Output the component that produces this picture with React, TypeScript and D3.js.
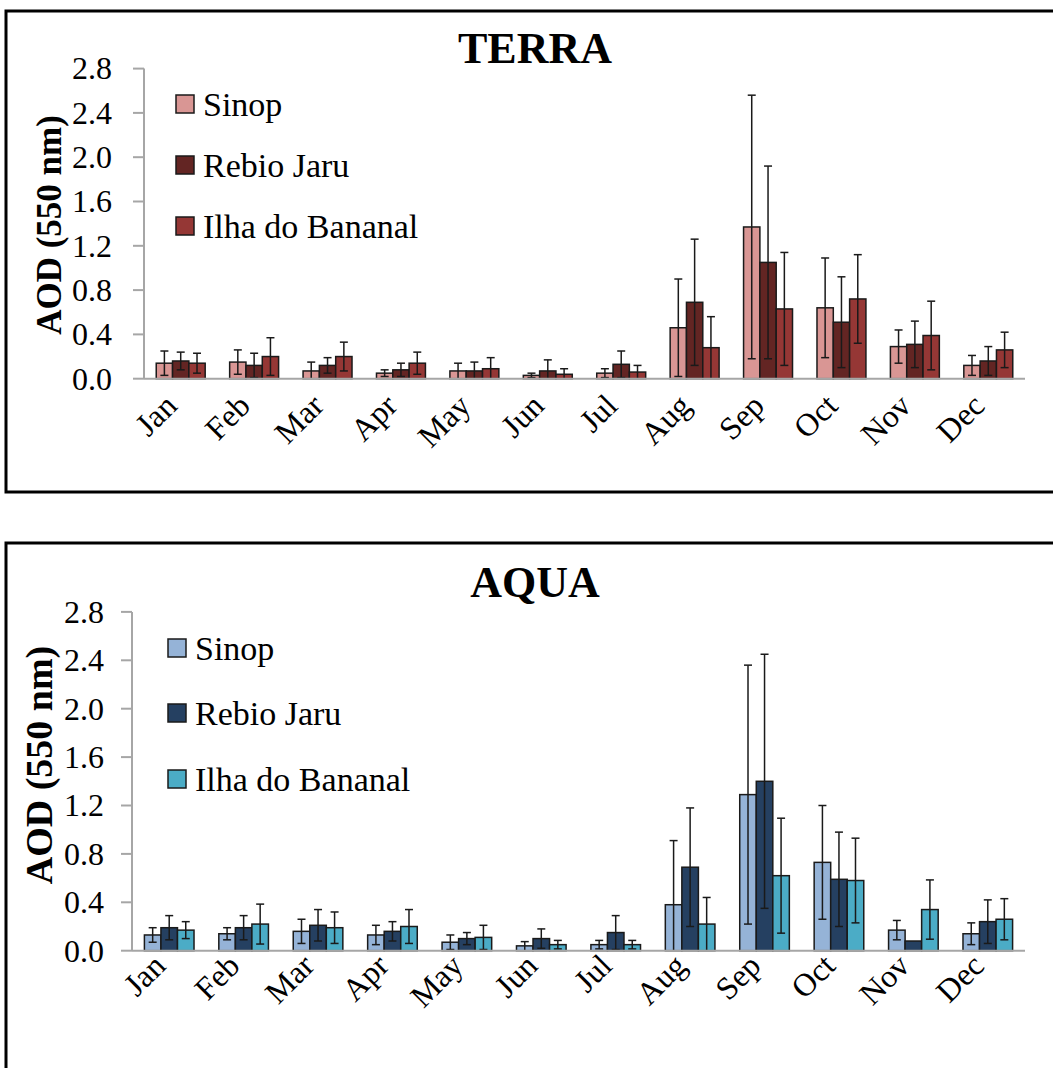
import React from "react";
import * as d3 from "d3";

const months = ["Jan", "Feb", "Mar", "Apr", "May", "Jun", "Jul", "Aug", "Sep", "Oct", "Nov", "Dec"];
const sites = ["Sinop", "Rebio Jaru", "Ilha do Bananal"];
const yTicks = [0, 0.4, 0.8, 1.2, 1.6, 2.0, 2.4, 2.8];

const terraSinop = [0.14, 0.15, 0.07, 0.05, 0.07, 0.03, 0.05, 0.46, 1.37, 0.64, 0.29, 0.12];
const terraSinopErr = [0.11, 0.11, 0.08, 0.03, 0.07, 0.02, 0.04, 0.44, 1.19, 0.45, 0.15, 0.09];
const terraRebio = [0.16, 0.12, 0.12, 0.08, 0.07, 0.07, 0.13, 0.69, 1.05, 0.51, 0.31, 0.16];
const terraRebioErr = [0.08, 0.11, 0.07, 0.06, 0.08, 0.10, 0.12, 0.57, 0.87, 0.41, 0.21, 0.13];
const terraIlha = [0.14, 0.20, 0.20, 0.14, 0.09, 0.04, 0.06, 0.28, 0.63, 0.72, 0.39, 0.26];
const terraIlhaErr = [0.09, 0.17, 0.13, 0.10, 0.10, 0.05, 0.06, 0.28, 0.51, 0.40, 0.31, 0.16];

const aquaSinop = [0.13, 0.14, 0.16, 0.13, 0.07, 0.04, 0.05, 0.38, 1.29, 0.73, 0.17, 0.14];
const aquaSinopErr = [0.06, 0.05, 0.10, 0.08, 0.06, 0.035, 0.035, 0.53, 1.07, 0.47, 0.08, 0.09];
const aquaRebio = [0.19, 0.19, 0.21, 0.16, 0.10, 0.10, 0.15, 0.69, 1.40, 0.59, 0.08, 0.24];
const aquaRebioErr = [0.10, 0.10, 0.13, 0.08, 0.05, 0.08, 0.14, 0.49, 1.05, 0.39, 0, 0.18];
const aquaIlha = [0.17, 0.22, 0.19, 0.20, 0.11, 0.05, 0.05, 0.22, 0.62, 0.58, 0.34, 0.26];
const aquaIlhaErr = [0.07, 0.165, 0.13, 0.14, 0.10, 0.035, 0.035, 0.22, 0.475, 0.35, 0.245, 0.17];

const terraColors = ["#D99694", "#632523", "#953735"];
const aquaColors = ["#95B3D7", "#254061", "#4BACC6"];

const FONT = "Liberation Serif, Tinos, Times New Roman, DejaVu Serif, serif";

type PanelProps = {
  title: string;
  values: number[][];
  errors: number[][];
  colors: string[];
  frameY: number;
  frameH: number;
  titleY: number;
  x0: number;
  x1: number;
  yBase: number;
  yTop: number;
  tickLabelX: number;
  yLabelX: number;
  yLabelY: number;
  yLabelSize: number;
  legendX: number;
  legendYs: number[];
  xLabelDy: number;
};

function Panel(p: PanelProps) {
  const x = d3.scaleBand<string>().domain(months).range([p.x0, p.x1]).paddingInner(1 / 3).paddingOuter(1 / 6);
  const xs = d3.scaleBand<string>().domain(sites).range([0, x.bandwidth()]);
  const y = d3.scaleLinear().domain([0, 2.8]).range([p.yBase, p.yTop]);
  const cap = 4;
  const tf = { fontFamily: FONT };
  return (
    <g>
      <rect x={6} y={p.frameY} width={1100} height={p.frameH} fill="white" stroke="#000" strokeWidth={3} />
      <text x={535} y={p.titleY} textAnchor="middle" style={tf} fontWeight="bold" fontSize={44}>
        {p.title}
      </text>
      <text
        transform={`translate(${p.yLabelX},${p.yLabelY}) rotate(-90)`}
        textAnchor="middle"
        style={tf}
        fontWeight="bold"
        fontSize={p.yLabelSize}
      >
        AOD (550 nm)
      </text>
      {yTicks.map((t) => (
        <g key={t}>
          <line x1={p.x0 - 11} x2={p.x0} y1={y(t)} y2={y(t)} stroke="#A6A6A6" strokeWidth={2} />
          <text x={p.tickLabelX} y={y(t)} dy="0.34em" textAnchor="end" style={tf} fontSize={32}>
            {t.toFixed(1)}
          </text>
        </g>
      ))}
      {months.map((m, i) => (
        <g key={m}>
          {sites.map((s, k) => {
            const v = p.values[k][i];
            const bx = (x(m) as number) + (xs(s) as number);
            const w = xs.bandwidth();
            return (
              <rect
                key={s}
                x={bx}
                y={y(v)}
                width={w}
                height={p.yBase - y(v)}
                fill={p.colors[k]}
                stroke="#1a1a1a"
                strokeWidth={1.5}
              />
            );
          })}
        </g>
      ))}
      {months.map((m, i) => (
        <g key={m + "e"}>
          {sites.map((s, k) => {
            const v = p.values[k][i];
            const e = p.errors[k][i];
            if (!e) return null;
            const cx = (x(m) as number) + (xs(s) as number) + xs.bandwidth() / 2;
            const hi = y(v + e);
            const loV = v - e;
            const lo = y(Math.max(0, loV));
            return (
              <g key={s} stroke="#1a1a1a" strokeWidth={1.5}>
                <line x1={cx} x2={cx} y1={hi} y2={lo} />
                <line x1={cx - cap} x2={cx + cap} y1={hi} y2={hi} />
                {loV > 0.005 ? <line x1={cx - cap} x2={cx + cap} y1={lo} y2={lo} /> : null}
              </g>
            );
          })}
        </g>
      ))}
      <line x1={p.x0} x2={p.x0} y1={p.yTop} y2={p.yBase} stroke="#A6A6A6" strokeWidth={2} />
      <line x1={p.x0} x2={p.x1} y1={p.yBase} y2={p.yBase} stroke="#A6A6A6" strokeWidth={2} />
      {months.map((m) => {
        const cx = (x(m) as number) + x.bandwidth() / 2;
        return (
          <text
            key={m + "l"}
            transform={`translate(${cx - 2},${p.yBase + p.xLabelDy}) rotate(-45)`}
            textAnchor="end"
            style={tf}
            fontSize={32}
          >
            {m}
          </text>
        );
      })}
      {sites.map((s, k) => (
        <g key={s + "lg"}>
          <rect x={p.legendX} y={p.legendYs[k] - 9} width={18} height={18} fill={p.colors[k]} stroke="#1a1a1a" strokeWidth={1.5} />
          <text x={p.legendX + 27} y={p.legendYs[k]} dy="0.36em" style={tf} fontSize={34}>
            {s}
          </text>
        </g>
      ))}
    </g>
  );
}

export default function App() {
  return (
    <svg
      width={1053}
      height={1068}
      style={{ position: "absolute", left: 0, top: 0, background: "white" }}
    >
      <Panel
        title="TERRA"
        values={[terraSinop, terraRebio, terraIlha]}
        errors={[terraSinopErr, terraRebioErr, terraIlhaErr]}
        colors={terraColors}
        frameY={11}
        frameH={481}
        titleY={63}
        x0={144}
        x1={1025}
        yBase={378.7}
        yTop={68.6}
        tickLabelX={112}
        yLabelX={61}
        yLabelY={225}
        yLabelSize={35}
        legendX={176}
        legendYs={[104, 165, 226]}
        xLabelDy={29}
      />
      <Panel
        title="AQUA"
        values={[aquaSinop, aquaRebio, aquaIlha]}
        errors={[aquaSinopErr, aquaRebioErr, aquaIlhaErr]}
        colors={aquaColors}
        frameY={543}
        frameH={600}
        titleY={597}
        x0={132}
        x1={1025}
        yBase={950.7}
        yTop={611.9}
        tickLabelX={104}
        yLabelX={52}
        yLabelY={765}
        yLabelSize={38}
        legendX={168}
        legendYs={[648, 713, 779]}
        xLabelDy={17}
      />
    </svg>
  );
}
